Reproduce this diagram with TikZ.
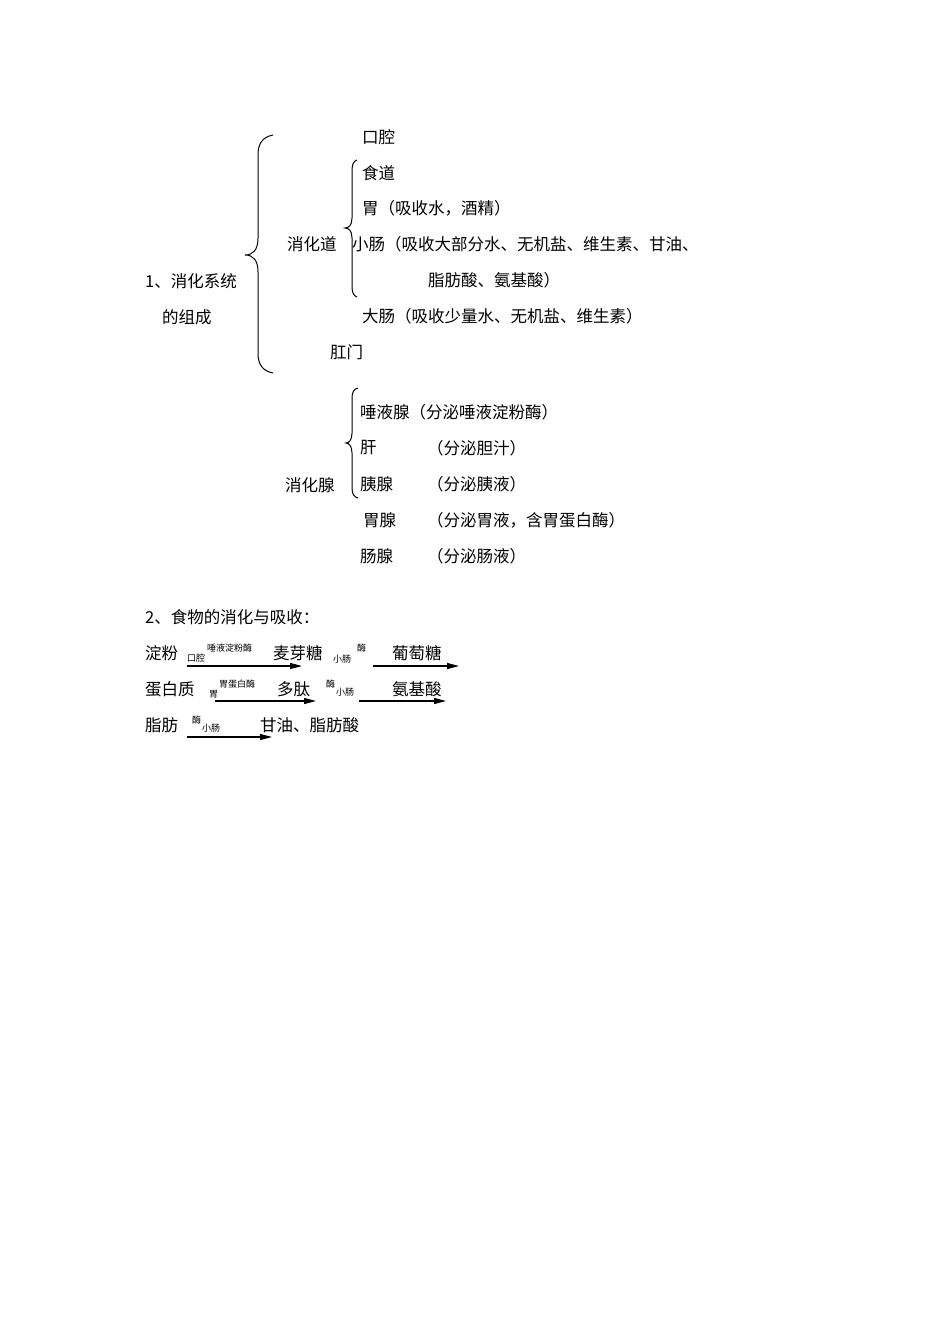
\documentclass[tikz,border=0pt]{standalone}
\usepackage{fontspec}
\setmainfont{Noto Sans CJK SC}
\usetikzlibrary{arrows.meta}
\begin{document}
\begin{tikzpicture}[x=1pt,y=-1pt,
  txt/.style={anchor=west,inner sep=0pt,font=\fontsize{16.5}{19}\selectfont},
  sm/.style={anchor=west,inner sep=0pt,font=\fontsize{9}{10}\selectfont},
  bracepath/.style={line width=1pt},
  arr/.style={line width=1.1pt,-{Triangle[length=12pt,width=6pt]}}]
\useasboundingbox[fill=white] (0,0) rectangle (950,1344);
% section 1
\node[txt] (kq) at (362,137) {口腔};
\node[txt] (sd) at (362,173) {食道};
\node[txt] (w) at (362,208) {胃（吸收水，酒精）};
\node[txt] (xc) at (352,244) {小肠（吸收大部分水、无机盐、维生素、甘油、};
\node[txt] (xc2) at (428,280) {脂肪酸、氨基酸）};
\node[txt] (dc) at (362,316) {大肠（吸收少量水、无机盐、维生素）};
\node[txt] (gm) at (330,352) {肛门};
\node[txt] (xhd) at (287,244) {消化道};
\node[txt] (t1) at (145,281) {1、消化系统};
\node[txt] (t1b) at (162,317) {的组成};
% big brace
\draw[bracepath] (273,135) .. controls (263,137) and (258,143) .. (258,155) -- (258,238)
  .. controls (258,250) and (253,255) .. (245,255)
  .. controls (253,255) and (258,260) .. (258,272) -- (258,353)
  .. controls (258,365) and (263,371) .. (273,373);
% small brace (digestive tract)
\draw[bracepath] (357,160) .. controls (354,161) and (352,164) .. (352,170) -- (352,218)
  .. controls (352,225) and (349,228) .. (345,228)
  .. controls (349,228) and (352,231) .. (352,238) -- (352,287)
  .. controls (352,293) and (354,296) .. (357,297);
% glands
\node[txt] (xhx) at (285,485) {消化腺};
\draw[bracepath] (358,388) .. controls (354,389) and (352,392) .. (352,398) -- (352,433)
  .. controls (352,440) and (349,443) .. (346,443)
  .. controls (349,443) and (352,446) .. (352,453) -- (352,488)
  .. controls (352,494) and (354,497) .. (358,498);
\node[txt] (tyx) at (360,412) {唾液腺（分泌唾液淀粉酶）};
\node[txt] (g) at (360,448) {肝};
\node[txt] (gb) at (427,448) {（分泌胆汁）};
\node[txt] (yx) at (360,484) {胰腺};
\node[txt] (yxb) at (427,484) {（分泌胰液）};
\node[txt] (wx) at (363,520) {胃腺};
\node[txt] (wxb) at (427,520) {（分泌胃液，含胃蛋白酶）};
\node[txt] (cx) at (360,556) {肠腺};
\node[txt] (cxb) at (427,556) {（分泌肠液）};
% section 2
\node[txt] (t2) at (145,617) {2、食物的消化与吸收：};
\node[txt] (df) at (145,653) {淀粉};
\node[sm] (l1a) at (187,658) {口腔};
\node[sm] (l1b) at (207,648) {唾液淀粉酶};
\coordinate (a1s) at (187,666); \coordinate (a1e) at (302,666);
\draw[arr] (a1s) -- (a1e);
\node[txt] (myt) at (273,653) {麦芽糖};
\node[sm] (l2a) at (333,659) {小肠};
\node[sm] (l2b) at (357,648) {酶};
\coordinate (a2s) at (373,666); \coordinate (a2e) at (459,666);
\draw[arr] (a2s) -- (a2e);
\node[txt] (ptt) at (392,653) {葡萄糖};
\node[txt] (dbz) at (145,689) {蛋白质};
\node[sm] (l3a) at (209,694) {胃};
\node[sm] (l3b) at (219,684) {胃蛋白酶};
\coordinate (a3s) at (215,701); \coordinate (a3e) at (316,701);
\draw[arr] (a3s) -- (a3e);
\node[txt] (dt) at (277,689) {多肽};
\node[sm] (l4a) at (326,684) {酶};
\node[sm] (l4b) at (336,692) {小肠};
\coordinate (a4s) at (359,701); \coordinate (a4e) at (446,701);
\draw[arr] (a4s) -- (a4e);
\node[txt] (ajs) at (392,689) {氨基酸};
\node[txt] (zf) at (145,725) {脂肪};
\node[sm] (l5a) at (192,720) {酶};
\node[sm] (l5b) at (202,728) {小肠};
\coordinate (a5s) at (187,737); \coordinate (a5e) at (272,737);
\draw[arr] (a5s) -- (a5e);
\node[txt] (gy) at (260,725) {甘油、脂肪酸};
\end{tikzpicture}
\end{document}
